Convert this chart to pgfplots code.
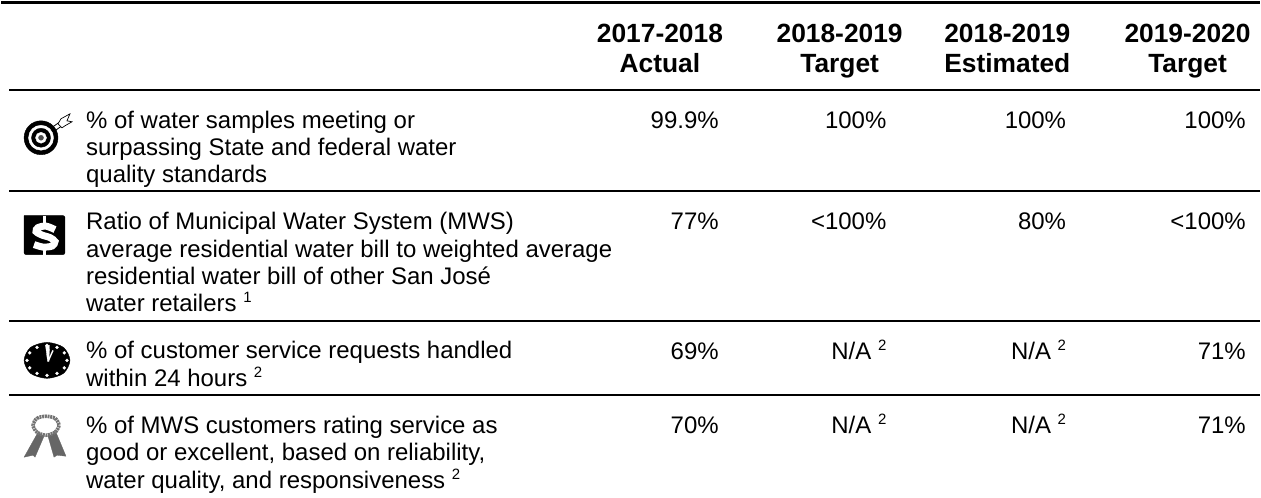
\documentclass[border=0pt]{standalone}
\usepackage{fontspec}
\setmainfont{Liberation Sans}
\usepackage{pgfplots}
\pgfplotsset{compat=1.18}
\newcommand{\bodyf}{\fontsize{24}{27}\selectfont}
\newcommand{\headf}{\fontsize{26.4}{30}\selectfont\bfseries}
\newcommand{\sups}[1]{\raisebox{0.36em}{\fontsize{15}{15}\selectfont #1}}
\begin{document}
\begin{tikzpicture}[
  hd/.style={font=\headf,anchor=base,align=center,inner sep=0pt},
  val/.style={font=\bodyf,anchor=base east,inner sep=0pt},
  lab/.style={font=\bodyf,anchor=base west,inner sep=0pt}]
\begin{axis}[
  at={(0,0)},anchor=south west,
  scale only axis,width=1261pt,height=498pt,
  xmin=0,xmax=1261,ymin=0,ymax=498,y dir=reverse,
  hide axis,clip=false]
% keep the page at full size
\addplot[draw=none,forget plot] coordinates {(0,0) (1261,498)};
% rules
\addplot[black,line width=2.2pt] coordinates {(0,2.5) (1261,2.5)};
\addplot[black,line width=2pt] coordinates {(8,90) (1261,90)};
\addplot[black,line width=2pt] coordinates {(8,191.5) (1261,191.5)};
\addplot[black,line width=2pt] coordinates {(8,322) (1261,322)};
\addplot[black,line width=2pt] coordinates {(8,396) (1261,396)};
% header
\node[hd] at (axis cs:660,43) {2017-2018};
\node[hd] at (axis cs:660,73) {Actual};
\node[hd] at (axis cs:840,43) {2018-2019};
\node[hd] at (axis cs:840,73) {Target};
\node[hd] at (axis cs:1008,43) {2018-2019};
\node[hd] at (axis cs:1008,73) {Estimated};
\node[hd] at (axis cs:1188.5,43) {2019-2020};
\node[hd] at (axis cs:1188.5,73) {Target};
% row labels
\node[lab] at (axis cs:85,128.5) {\% of water samples meeting or};
\node[lab] at (axis cs:85,155.5) {surpassing State and federal water};
\node[lab] at (axis cs:85,182.5) {quality standards};
\node[lab] at (axis cs:85,230) {Ratio of Municipal Water System (MWS)};
\node[lab] at (axis cs:85,257.5) {average residential water bill to weighted average};
\node[lab] at (axis cs:85,285) {residential water bill of other San José};
\node[lab] at (axis cs:85,312) {water retailers \sups{1}};
\node[lab] at (axis cs:85,359.5) {\% of customer service requests handled};
\node[lab] at (axis cs:85,387) {within 24 hours \sups{2}};
\node[lab] at (axis cs:85,434) {\% of MWS customers rating service as};
\node[lab] at (axis cs:85,461.5) {good or excellent, based on reliability,};
\node[lab] at (axis cs:85,489) {water quality, and responsiveness \sups{2}};
% values
\node[val] at (axis cs:719,128.5) {99.9\%};
\node[val] at (axis cs:887,128.5) {100\%};
\node[val] at (axis cs:1067,128.5) {100\%};
\node[val] at (axis cs:1247,128.5) {100\%};
\node[val] at (axis cs:719,230) {77\%};
\node[val] at (axis cs:887,230) {<100\%};
\node[val] at (axis cs:1067,230) {80\%};
\node[val] at (axis cs:1247,230) {<100\%};
\node[val] at (axis cs:719,360) {69\%};
\node[val] at (axis cs:887,360) {N/A \sups{2}};
\node[val] at (axis cs:1067,360) {N/A \sups{2}};
\node[val] at (axis cs:1247,360) {71\%};
\node[val] at (axis cs:719,434) {70\%};
\node[val] at (axis cs:887,434) {N/A \sups{2}};
\node[val] at (axis cs:1067,434) {N/A \sups{2}};
\node[val] at (axis cs:1247,434) {71\%};
% target icon
\addplot[only marks,mark=*,mark size=17pt,black,mark options={draw=none}] coordinates {(40,138)};
\addplot[only marks,mark=*,mark size=12.5pt,white,mark options={draw=none}] coordinates {(40,138)};
\addplot[only marks,mark=*,mark size=9.5pt,black,mark options={draw=none}] coordinates {(40,138)};
\addplot[only marks,mark=*,mark size=5.5pt,white,mark options={draw=none}] coordinates {(40,138)};
\addplot[only marks,mark=*,mark size=2.5pt,black!70,mark options={draw=none}] coordinates {(40,138)};
\addplot[white,line width=3pt] coordinates {(41,137) (60,124)};
\addplot[black,line width=0.8pt] coordinates {(42,134) (59,122)};
\addplot[black,line width=0.8pt] coordinates {(44,138) (61,126)};
\addplot[black,line width=0.7pt,fill=white] coordinates {(57,124) (60,119) (69,114) (66,121) (71,122) (64,126) (61,128) (57,124)};
% dollar icon
\addplot[black,fill=black,rounded corners=2pt] coordinates {(23,216) (64,216) (64,255) (23,255) (23,216)};
\addplot[white,line width=7pt,smooth] coordinates {(54,230) (45,226.5) (37,228) (35,232) (41,235.5) (49,238) (54,242) (51,246.5) (42,247.5) (33,245)};
\addplot[white,line width=3pt] coordinates {(43,216) (43,224)};
\addplot[white,line width=3pt] coordinates {(43,248) (43,255)};
% clock icon
\addplot[black,fill=black,smooth cycle] coordinates {(23,361) (29.5,348) (46,343) (62.5,348) (69,361) (62.5,374) (46,379) (29.5,374)};
\addplot[only marks,mark=*,mark size=1.5pt,white,mark options={draw=none}] coordinates {
  (66,361) (63.3,368.5) (56,374) (46,376) (36,374) (28.7,368.5)
  (26,361) (28.7,353.5) (36,348) (46,346) (56,348) (63.3,353.5)};
\addplot[white,fill=white,line width=0.3pt] coordinates {(44.5,346) (48.5,346) (48,362) (46.5,362) (44.5,346)};
\addplot[white,line width=1.4pt] coordinates {(47.5,361) (52,351)};
% ribbon icon
\addplot[black!60,fill=black!60,line width=0.3pt] coordinates {(37,433) (23,458) (32,456) (34,458) (43,437) (37,433)};
\addplot[black!60,fill=black!60,line width=0.3pt] coordinates {(47,437) (55,433) (65,457) (56,456) (53,458) (47,437)};
\addplot[black!55,line width=3.6pt,dash pattern=on 2pt off 0.7pt,smooth cycle] coordinates {(32,426) (36,419) (45,417) (54,419) (58,426) (54,433) (45,436) (36,433)};
\end{axis}
\end{tikzpicture}
\end{document}
